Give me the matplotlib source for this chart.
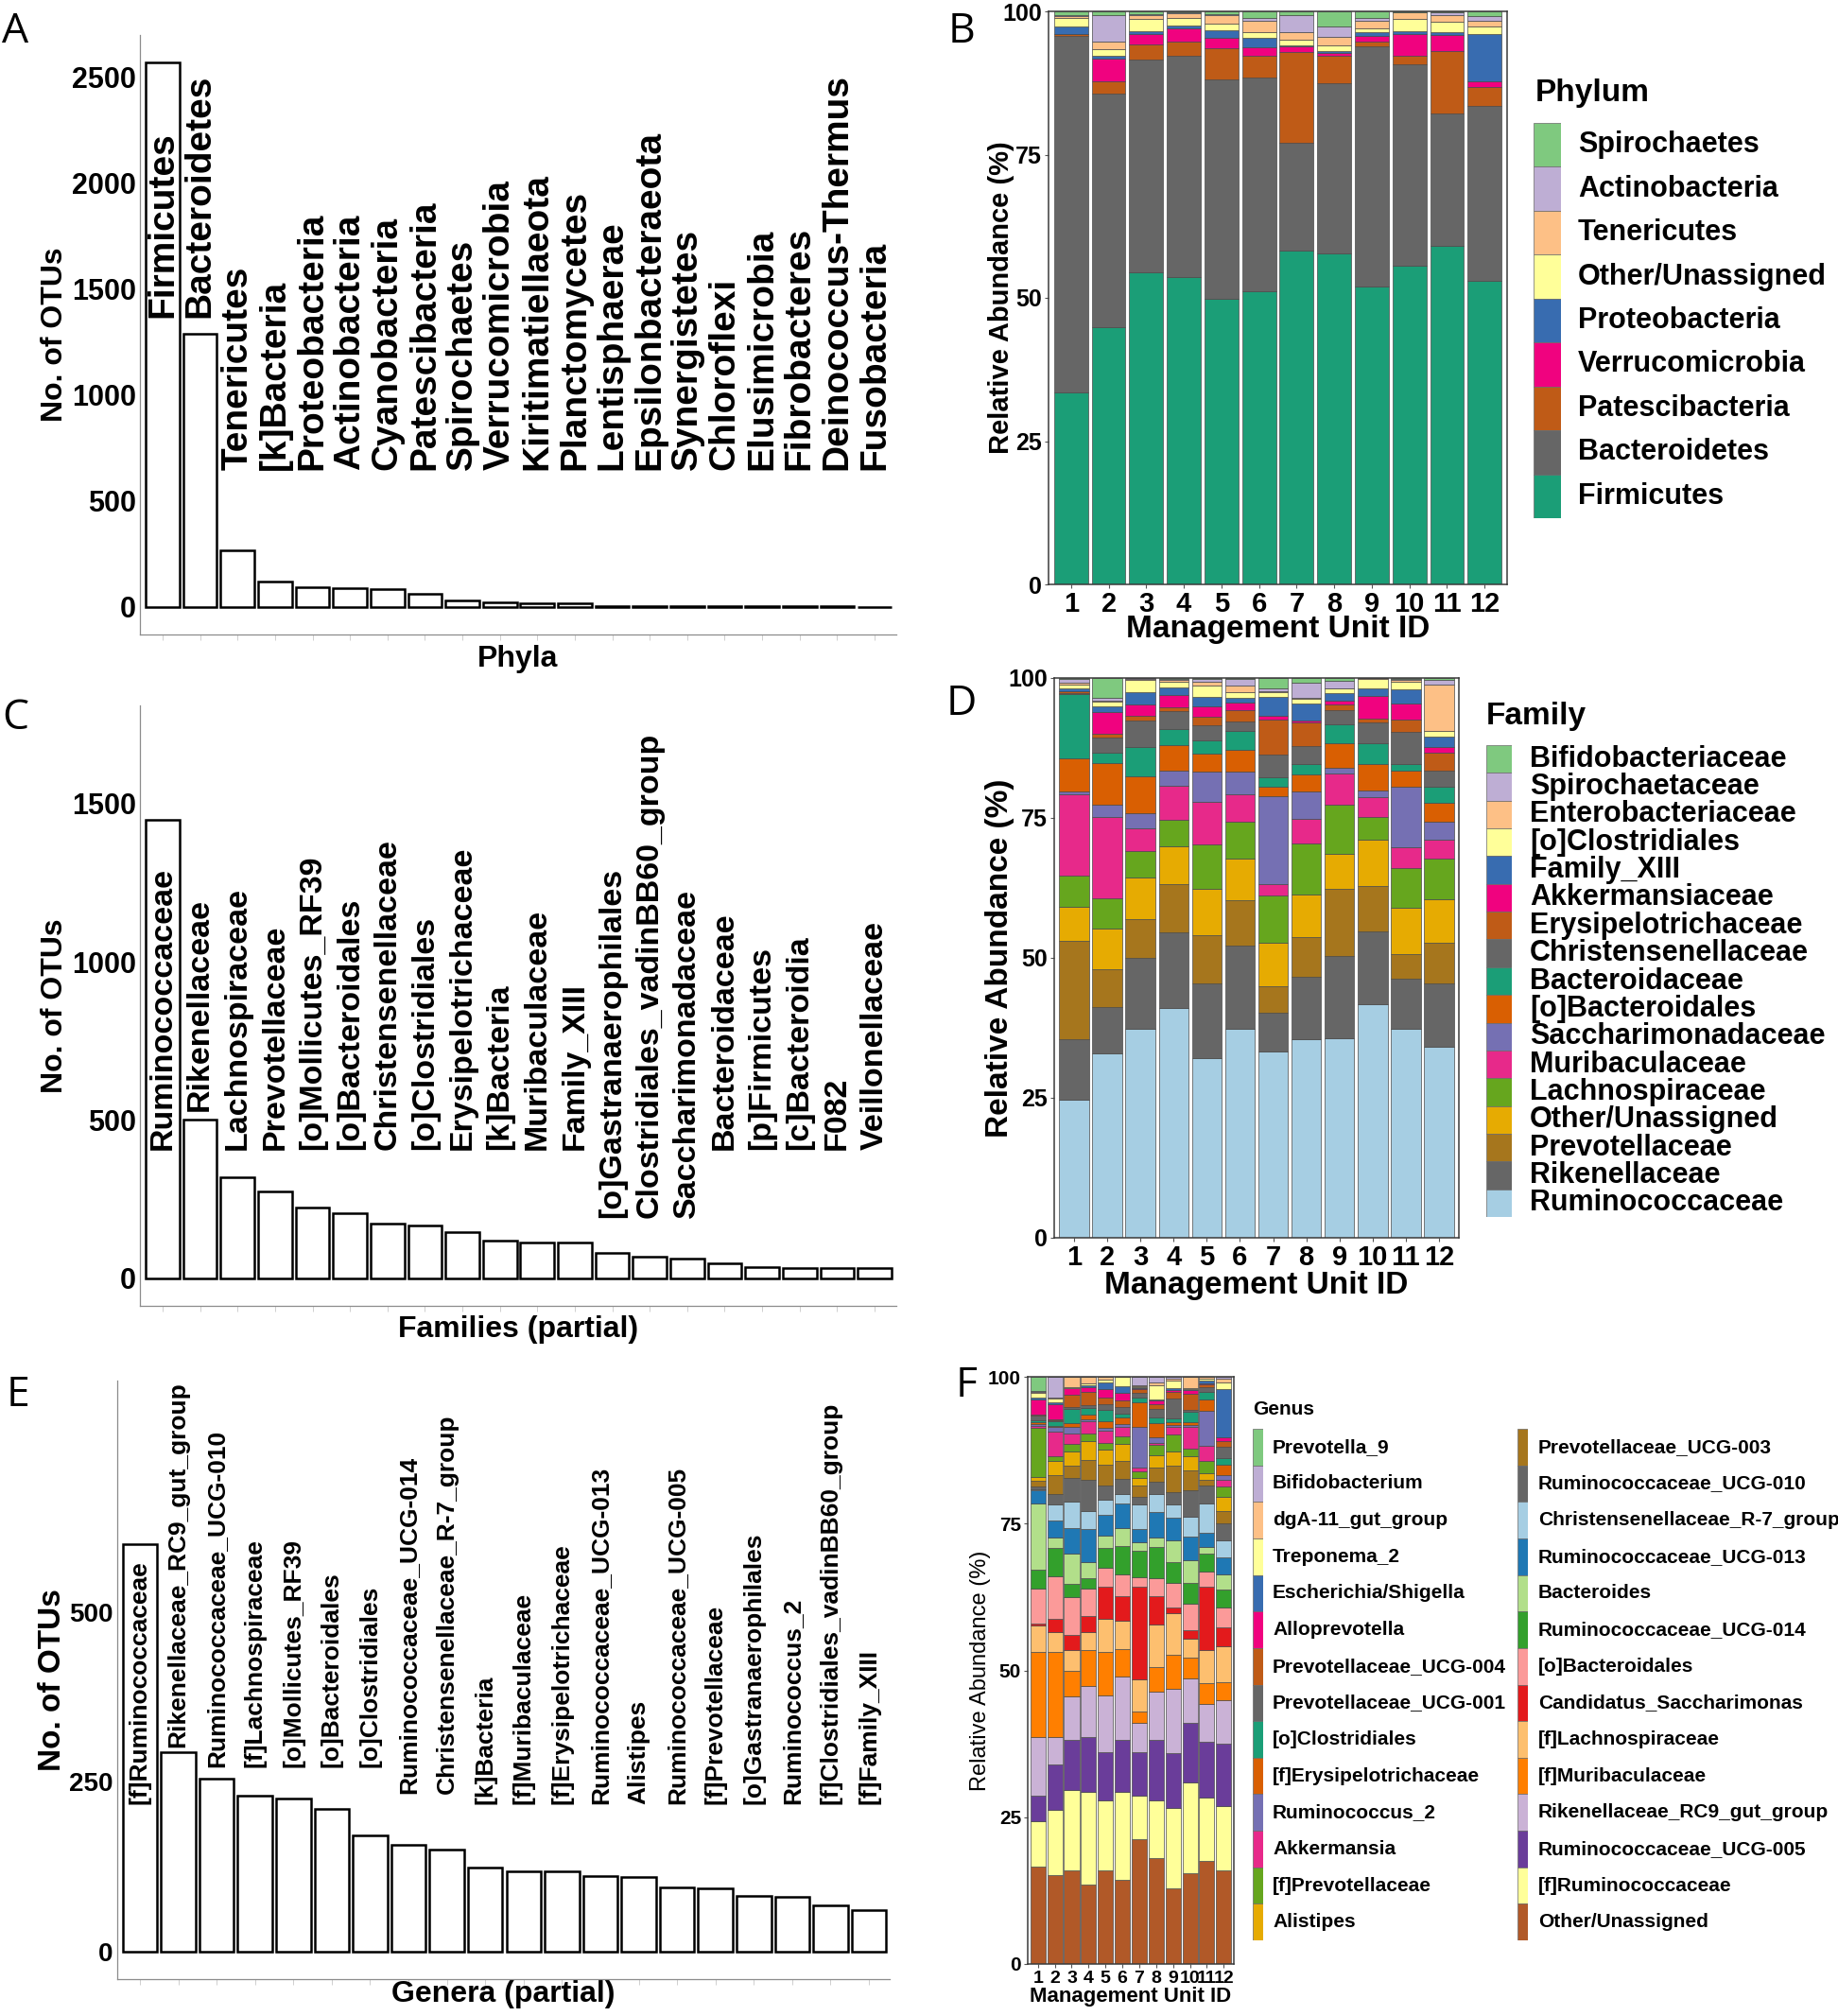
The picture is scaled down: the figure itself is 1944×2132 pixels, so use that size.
import numpy as np
import matplotlib
matplotlib.use("Agg")
import matplotlib.pyplot as plt
import matplotlib.transforms as mtransforms

plt.rcParams['font.family'] = ['Liberation Sans', 'DejaVu Sans']
plt.rcParams['font.weight'] = 'bold'
plt.rcParams['axes.labelweight'] = 'bold'

W, H = 1944, 2132

# ---------------- data ----------------
units = [str(i) for i in range(1, 13)]

phyla = ["Firmicutes", "Bacteroidetes", "Tenericutes", "[k]Bacteria", "Proteobacteria",
         "Actinobacteria", "Cyanobacteria", "Patescibacteria", "Spirochaetes", "Verrucomicrobia",
         "Kiritimatiellaeota", "Planctomycetes", "Lentisphaerae", "Epsilonbacteraeota",
         "Synergistetes", "Chloroflexi", "Elusimicrobia", "Fibrobacteres",
         "Deinococcus-Thermus", "Fusobacteria"]
phyla_otus = [2572, 1289, 266, 122, 93, 87, 83, 64, 29, 21, 17, 17, 6, 4, 4, 3, 3, 2, 2, 1]
phyla_label_at = [1365, 1365] + [648] * 18

families = ["Ruminococcaceae", "Rikenellaceae", "Lachnospiraceae", "Prevotellaceae",
            "[o]Mollicutes_RF39", "[o]Bacteroidales", "Christensenellaceae", "[o]Clostridiales",
            "Erysipelotrichaceae", "[k]Bacteria", "Muribaculaceae", "Family_XIII",
            "[o]Gastranaerophilales", "Clostridiales_vadinBB60_group", "Saccharimonadaceae",
            "Bacteroidaceae", "[p]Firmicutes", "[c]Bacteroidia", "F082", "Veillonellaceae"]
family_otus = [1449, 503, 320, 274, 223, 205, 174, 167, 145, 120, 114, 113, 80, 68, 61, 48,
               34, 33, 32, 32]
family_label_at = [407, 528] + [407] * 10 + [190, 190, 190] + [407] * 5

genera = ["[f]Ruminococcaceae", "Rikenellaceae_RC9_gut_group", "Ruminococcaceae_UCG-010",
          "[f]Lachnospiraceae", "[o]Mollicutes_RF39", "[o]Bacteroidales", "[o]Clostridiales",
          "Ruminococcaceae_UCG-014", "Christensenellaceae_R-7_group", "[k]Bacteria",
          "[f]Muribaculaceae", "[f]Erysipelotrichaceae", "Ruminococcaceae_UCG-013", "Alistipes",
          "Ruminococcaceae_UCG-005", "[f]Prevotellaceae", "[o]Gastranaerophilales",
          "Ruminococcus_2", "[f]Clostridiales_vadinBB60_group", "[f]Family_XIII"]
genus_otus = [600, 293, 255, 230, 226, 210, 171, 158, 151, 124, 119, 118, 111, 110, 95, 93,
              82, 81, 68, 61]
genus_label_at = [217, 300, 271, 271, 271, 271, 271, 233, 233] + [217] * 11

# relative abundance (%), rows listed from bottom of stack to top
phylum_names = ["Firmicutes", "Bacteroidetes", "Patescibacteria", "Verrucomicrobia",
                "Proteobacteria", "Other/Unassigned", "Tenericutes", "Actinobacteria",
                "Spirochaetes"]
phylum_colors = ["#1B9E77", "#666666", "#BF5B17", "#F0027F", "#386CB0", "#FFFF99",
                 "#FDC086", "#BEAED4", "#7FC97F"]
phylum_pct = [
    [33.5, 44.9, 54.4, 53.7, 49.9, 51.2, 58.3, 57.8, 51.9, 55.6, 59.0, 53.0],
    [62.2, 40.8, 37.2, 38.5, 38.2, 37.2, 18.8, 29.6, 42.0, 35.1, 23.2, 30.5],
    [0.3, 2.1, 2.7, 2.6, 5.4, 3.9, 15.8, 4.9, 0.9, 1.5, 10.9, 3.3],
    [0.1, 4.0, 1.8, 2.2, 1.9, 1.4, 1.0, 0.5, 0.9, 3.9, 2.7, 1.0],
    [1.2, 0.5, 0.4, 0.6, 1.3, 1.6, 0.2, 0.3, 0.6, 0.4, 0.6, 8.3],
    [1.5, 1.1, 2.1, 1.2, 1.1, 1.1, 0.9, 1.0, 0.7, 2.2, 1.8, 1.2],
    [0.3, 1.4, 0.8, 0.9, 1.6, 2.0, 1.4, 1.4, 1.3, 1.2, 1.2, 1.0],
    [0.2, 4.6, 0.1, 0.1, 0.1, 0.4, 3.0, 1.8, 0.5, 0.0, 0.4, 0.8],
    [0.7, 0.6, 0.5, 0.2, 0.5, 1.2, 0.6, 2.7, 1.2, 0.1, 0.2, 0.9],
]

family_names = ["Ruminococcaceae", "Rikenellaceae", "Prevotellaceae", "Other/Unassigned",
                "Lachnospiraceae", "Muribaculaceae", "Saccharimonadaceae", "[o]Bacteroidales",
                "Bacteroidaceae", "Christensenellaceae", "Erysipelotrichaceae",
                "Akkermansiaceae", "Family_XIII", "[o]Clostridiales", "Enterobacteriaceae",
                "Spirochaetaceae", "Bifidobacteriaceae"]
family_colors = ["#A6CEE3", "#666666", "#A6761D", "#E6AB02", "#66A61E", "#E7298A", "#7570B3",
                 "#D95F02", "#1B9E77", "#666666", "#BF5B17", "#F0027F", "#386CB0", "#FFFF99",
                 "#FDC086", "#BEAED4", "#7FC97F"]
family_pct = [
    [24.7, 32.9, 37.3, 41.0, 32.1, 37.3, 33.3, 35.5, 35.6, 41.7, 37.4, 34.1],
    [10.7, 8.3, 12.7, 13.6, 13.4, 14.9, 6.9, 11.1, 14.8, 13.0, 8.8, 11.3],
    [17.7, 6.8, 6.9, 8.5, 8.5, 8.1, 4.7, 7.2, 11.9, 8.1, 4.4, 7.3],
    [6.1, 7.3, 7.4, 6.8, 8.4, 7.4, 7.8, 7.6, 6.3, 8.3, 8.4, 7.7],
    [5.5, 5.3, 4.8, 4.7, 7.8, 6.7, 8.4, 9.1, 8.8, 4.1, 7.1, 7.4],
    [14.6, 14.6, 4.1, 6.1, 7.6, 4.8, 2.0, 4.4, 5.6, 3.5, 3.7, 3.3],
    [0.4, 2.1, 2.7, 2.7, 5.4, 4.0, 15.8, 4.8, 1.0, 1.2, 10.8, 3.3],
    [5.9, 7.5, 6.5, 4.6, 3.3, 3.9, 1.6, 3.1, 4.3, 4.7, 2.9, 3.3],
    [11.5, 1.9, 5.2, 2.9, 2.3, 3.4, 1.7, 1.9, 3.5, 3.7, 1.2, 2.8],
    [0.2, 2.6, 4.8, 3.2, 2.8, 1.8, 4.1, 3.2, 2.4, 3.7, 5.6, 3.0],
    [0.3, 0.7, 0.9, 0.7, 1.4, 2.0, 6.3, 4.1, 1.0, 0.8, 2.3, 3.2],
    [0.1, 4.0, 1.9, 2.2, 2.0, 1.3, 0.7, 0.4, 0.8, 4.0, 2.8, 1.0],
    [0.5, 0.9, 2.2, 1.3, 1.6, 0.8, 3.3, 3.0, 1.3, 1.4, 2.6, 1.8],
    [0.7, 0.9, 2.2, 1.1, 2.0, 1.1, 0.8, 0.9, 0.8, 1.7, 1.3, 1.0],
    [0.2, 0.2, 0.2, 0.3, 0.8, 1.2, 0.3, 0.1, 0.1, 0.1, 0.4, 8.4],
    [0.8, 0.4, 0.2, 0.2, 0.5, 1.2, 0.5, 2.7, 1.3, 0.0, 0.2, 0.8],
    [0.1, 3.6, 0.0, 0.1, 0.1, 0.1, 1.8, 0.9, 0.5, 0.0, 0.1, 0.3],
]

genus_names = ["Other/Unassigned", "[f]Ruminococcaceae", "Ruminococcaceae_UCG-005",
               "Rikenellaceae_RC9_gut_group", "[f]Muribaculaceae", "[f]Lachnospiraceae",
               "Candidatus_Saccharimonas", "[o]Bacteroidales", "Ruminococcaceae_UCG-014",
               "Bacteroides", "Ruminococcaceae_UCG-013", "Christensenellaceae_R-7_group",
               "Ruminococcaceae_UCG-010", "Prevotellaceae_UCG-003", "Alistipes",
               "[f]Prevotellaceae", "Akkermansia", "Ruminococcus_2", "[f]Erysipelotrichaceae",
               "[o]Clostridiales", "Prevotellaceae_UCG-001", "Prevotellaceae_UCG-004",
               "Alloprevotella", "Escherichia/Shigella", "Treponema_2", "dgA-11_gut_group",
               "Bifidobacterium", "Prevotella_9"]
genus_colors = ["#B15928", "#FFFF99", "#6A3D9A", "#CAB2D6", "#FF7F00", "#FDBF6F", "#E31A1C",
                "#FB9A99", "#33A02C", "#B2DF8A", "#1F78B4", "#A6CEE3", "#666666", "#A6761D",
                "#E6AB02", "#66A61E", "#E7298A", "#7570B3", "#D95F02", "#1B9E77", "#666666",
                "#BF5B17", "#F0027F", "#386CB0", "#FFFF99", "#FDC086", "#BEAED4", "#7FC97F"]
genus_pct = [
    [16.6, 15.1, 16.0, 13.5, 15.9, 14.4, 21.3, 18.1, 12.9, 15.4, 17.5, 16.0],
    [7.7, 11.1, 13.6, 15.8, 11.9, 14.9, 7.4, 9.8, 13.6, 15.5, 10.9, 10.9],
    [4.4, 7.8, 8.6, 9.4, 8.2, 8.8, 7.3, 10.2, 9.4, 10.1, 9.5, 10.6],
    [10.0, 4.7, 7.4, 8.6, 9.8, 10.8, 5.0, 8.2, 11.0, 7.6, 6.4, 7.4],
    [14.5, 14.5, 4.3, 6.1, 7.4, 4.8, 2.0, 4.3, 5.7, 3.5, 3.6, 3.1],
    [4.4, 3.3, 3.5, 3.2, 5.6, 4.8, 5.5, 7.2, 7.2, 3.3, 5.5, 6.1],
    [0.3, 2.2, 2.6, 2.7, 5.4, 4.1, 15.8, 4.8, 0.9, 1.4, 10.8, 3.3],
    [6.1, 7.3, 6.4, 4.7, 3.3, 3.8, 1.5, 3.1, 4.2, 4.6, 2.7, 3.3],
    [3.1, 4.9, 2.4, 1.7, 3.3, 4.8, 4.5, 5.3, 3.5, 3.5, 3.0, 3.0],
    [11.3, 1.7, 5.1, 2.7, 2.2, 3.1, 1.6, 1.6, 3.7, 3.9, 1.1, 2.7],
    [2.3, 3.0, 4.3, 5.7, 3.5, 4.2, 2.2, 4.3, 3.9, 4.0, 2.4, 2.8],
    [0.2, 2.6, 4.6, 3.0, 2.6, 1.5, 4.1, 3.1, 2.2, 3.3, 5.0, 2.9],
    [0.4, 1.9, 3.9, 5.3, 2.4, 2.6, 1.3, 2.2, 2.2, 4.6, 3.1, 2.9],
    [1.0, 3.2, 2.1, 3.5, 3.5, 3.1, 2.0, 2.4, 4.4, 3.3, 0.9, 2.1],
    [0.7, 2.4, 2.5, 3.1, 2.6, 2.8, 1.2, 2.0, 2.4, 2.5, 1.1, 2.5],
    [8.3, 0.8, 1.2, 1.3, 1.1, 1.4, 1.2, 1.8, 2.9, 1.2, 2.2, 1.7],
    [0.3, 4.1, 1.9, 2.2, 2.1, 1.6, 0.7, 0.4, 1.3, 3.7, 2.6, 1.1],
    [0.3, 0.9, 1.1, 0.3, 0.5, 0.4, 6.8, 0.9, 0.4, 0.4, 5.9, 0.9],
    [0.3, 0.1, 0.6, 0.8, 1.1, 1.2, 4.2, 2.4, 0.5, 0.5, 2.0, 1.8],
    [0.4, 0.8, 2.5, 1.1, 1.9, 0.7, 0.9, 1.0, 0.6, 1.8, 1.2, 1.1],
    [0.8, 0.2, 0.3, 0.5, 1.0, 1.1, 0.7, 1.5, 3.4, 0.2, 0.8, 1.9],
    [0.2, 0.2, 2.0, 2.2, 1.1, 1.1, 0.7, 0.8, 1.2, 2.8, 0.5, 0.9],
    [2.6, 2.6, 1.1, 0.8, 1.5, 1.3, 0.2, 0.6, 0.3, 0.7, 0.2, 0.7],
    [0.2, 0.2, 0.1, 0.3, 1.1, 1.1, 0.1, 0.1, 0.3, 0.1, 0.4, 8.2],
    [0.9, 0.7, 0.2, 0.3, 0.5, 1.6, 0.2, 2.5, 1.3, 0.1, 0.3, 1.1],
    [0.2, 0.1, 1.7, 1.2, 0.5, 0.0, 0.1, 0.4, 0.2, 2.0, 0.4, 0.7],
    [0.1, 3.6, 0.0, 0.0, 0.0, 0.0, 1.5, 1.0, 0.4, 0.0, 0.0, 0.3],
    [2.4, 0.0, 0.0, 0.0, 0.0, 0.0, 0.0, 0.0, 0.0, 0.0, 0.0, 0.0],
]


def rect(x0, y0, x1, y1):
    # pixel box measured from the top-left corner -> figure fraction
    return [x0 / W, 1 - y1 / H, (x1 - x0) / W, (y1 - y0) / H]


def otu_panel(fig, box, names, counts, label_at, ylim, yticks, xlim, xlabel,
              label_fs, tick_fs, ylab_fs, xlab_coords, ylab_coords):
    ax = fig.add_axes(rect(*box))
    x = np.arange(1, len(names) + 1)
    ax.bar(x, counts, width=0.9, color='white', edgecolor='black', linewidth=1.8, zorder=2)
    for xi, name, yl in zip(x, names, label_at):
        ax.text(xi, yl, name, rotation=90, ha='center', va='bottom',
                fontsize=label_fs, fontweight='bold', zorder=3)
    ax.set_xlim(*xlim)
    ax.set_ylim(*ylim)
    ax.set_yticks(yticks)
    ax.set_xticks(x)
    ax.set_xticklabels([])
    ax.tick_params(axis='y', length=0, pad=3, labelsize=tick_fs)
    ax.tick_params(axis='x', length=4, color='#c8c8c8', width=0.6)
    for s in ['top', 'right']:
        ax.spines[s].set_visible(False)
    for s in ['left', 'bottom']:
        ax.spines[s].set_color('#8c8c8c')
        ax.spines[s].set_linewidth(0.9)
    ax.set_xlabel(xlabel, fontsize=23)
    ax.set_ylabel('No. of OTUs', fontsize=ylab_fs)
    ax.xaxis.set_label_coords(*xlab_coords)
    ax.xaxis.label.set_va('center')
    ax.yaxis.set_label_coords(*ylab_coords)
    ax.yaxis.label.set_va('center')
    return ax


def stack_panel(fig, box, pct, colors, xtick_fs, ytick_fs, xlab_fs, ylab_fs,
                xlab_y, ylab_x, ylab_weight='bold'):
    ax = fig.add_axes(rect(*box))
    x = np.arange(1, len(units) + 1)
    bottom = np.zeros(len(units))
    for row, col in zip(pct, colors):
        vals = np.array(row)
        ax.bar(x, vals, bottom=bottom, width=0.9, color=col, edgecolor='#4a4a4a',
               linewidth=0.5)
        bottom += vals
    ax.set_xlim(0.4, 12.6)
    ax.set_ylim(0, 100)
    ax.set_xticks(x)
    ax.set_xticklabels(units)
    ax.set_yticks([0, 25, 50, 75, 100])
    ax.tick_params(axis='x', length=3, pad=2, labelsize=xtick_fs, color='#555555')
    ax.tick_params(axis='y', length=3, pad=2, labelsize=ytick_fs, color='#555555')
    for s in ax.spines.values():
        s.set_color('#3a3a3a')
        s.set_linewidth(1.1)
    ax.set_xlabel('Management Unit ID', fontsize=xlab_fs)
    ax.set_ylabel('Relative Abundance (%)', fontsize=ylab_fs, fontweight=ylab_weight)
    ax.xaxis.set_label_coords(0.5, xlab_y)
    ax.xaxis.label.set_va('center')
    ax.yaxis.set_label_coords(ylab_x, 0.5)
    ax.yaxis.label.set_va('center')
    return ax


def key_column(fig, names, colors, x0, x1, y0, y1, text_x, fs):
    ax = fig.add_axes(rect(x0, y0, x1, y1))
    n = len(names)
    ax.barh(np.arange(n), 1, height=1, left=0, color=colors, edgecolor='#6a6a6a',
            linewidth=0.5)
    ax.set_xlim(0, 1)
    ax.set_ylim(n - 0.5, -0.5)
    ax.axis('off')
    trans = mtransforms.blended_transform_factory(ax.transAxes, ax.transData)
    tx = (text_x - x0) / (x1 - x0)
    for i, name in enumerate(names):
        ax.text(tx, i, name, transform=trans, ha='left', va='center', fontsize=fs,
                fontweight='bold')
    return ax


fig = plt.figure(figsize=(W / 100, H / 100), dpi=100)

# A
otu_panel(fig, (148, 37, 948, 671), phyla, phyla_otus, phyla_label_at, (-130, 2700),
          [0, 500, 1000, 1500, 2000, 2500], (0.394, 20.58), 'Phyla',
          28, 22, 23, (0.5, -0.041), (-0.1125, 0.5))
# C
otu_panel(fig, (148, 746, 948, 1381), families, family_otus, family_label_at, (-87, 1810),
          [0, 500, 1000, 1500], (0.394, 20.58), 'Families (partial)',
          24.5, 22, 23, (0.5, -0.039), (-0.1125, 0.5))
# E
otu_panel(fig, (124, 1460, 941, 2093), genera, genus_otus, genus_label_at, (-40, 840),
          [0, 250, 500], (0.41, 20.54), 'Genera (partial)',
          19, 20, 24, (0.5, -0.025), (-0.084, 0.5))

# B
stack_panel(fig, (1109, 12, 1594, 618), phylum_pct, phylum_colors, 21, 18, 24, 21,
            -0.079, -0.103)
key_column(fig, phylum_names[::-1], phylum_colors[::-1], 1622, 1651, 130, 548, 1669, 22)
fig.text(1624 / W, 1 - 98 / H, 'Phylum', fontsize=24, fontweight='bold',
         ha='left', va='center')

# D
stack_panel(fig, (1115, 717, 1543, 1309), family_pct, family_colors, 21, 18, 24, 24,
            -0.086, -0.135)
key_column(fig, family_names[::-1], family_colors[::-1], 1572, 1599, 788, 1287, 1618, 22)
fig.text(1572 / W, 1 - 757 / H, 'Family', fontsize=24, fontweight='bold',
         ha='left', va='center')

# F (unit numbers crowd each other at this width, as in the original)
stack_panel(fig, (1087, 1456, 1305, 2077), genus_pct, genus_colors, 14, 15, 16, 17,
            -0.056, -0.229, ylab_weight='normal')
g_names = genus_names[::-1]
g_cols = genus_colors[::-1]
key_column(fig, g_names[:14], g_cols[:14], 1325, 1336, 1511, 2052, 1346, 15)
key_column(fig, g_names[14:], g_cols[14:], 1605, 1616, 1511, 2052, 1627, 15)
fig.text(1325 / W, 1 - 1490 / H, 'Genus', fontsize=15, fontweight='bold',
         ha='left', va='center')

# panel letters
for letter, (px, py) in zip("ABCDEF", [(16, 34), (1017, 34), (16, 760), (1017, 745),
                                      (19, 1476), (1022, 1466)]):
    fig.text(px / W, 1 - py / H, letter, fontsize=32, fontweight='normal',
             family=['Open Sans', 'DejaVu Sans'], ha='center', va='center')

fig.savefig('out.png', dpi=100)
